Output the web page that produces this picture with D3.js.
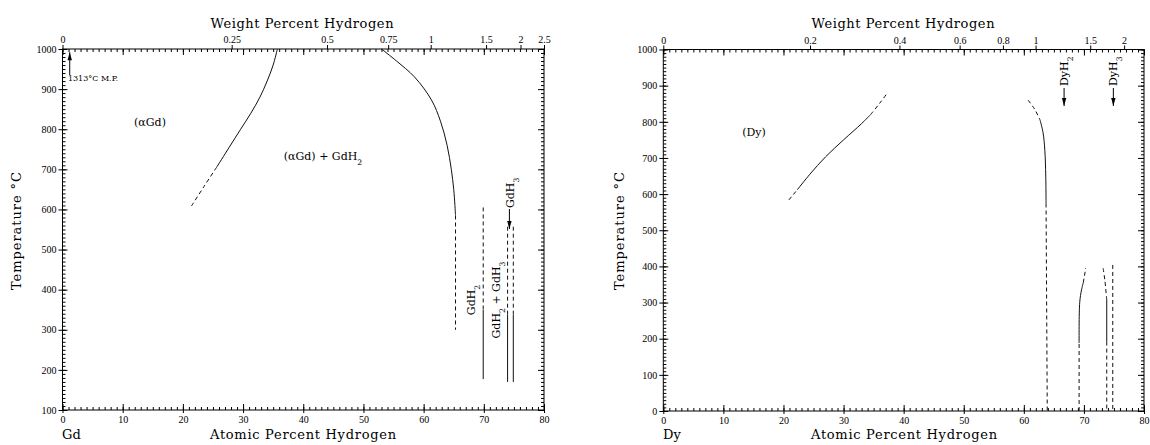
<!DOCTYPE html>
<html><head><meta charset="utf-8">
<script src="https://cdn.jsdelivr.net/npm/d3@7"></script>
<style>
body{margin:0;background:#fff;}
svg{display:block;}
.tick text{font-family:"Liberation Serif",serif;font-size:10px;fill:#000;}
.domain{display:none;}
.tick line{stroke:#000;stroke-width:1;}
</style></head><body>
<svg id="c" width="1150" height="445"></svg>
<script>
// ---------- DATA ----------
const atTicks = [0,10,20,30,40,50,60,70,80];
const gdTempTicks = [100,200,300,400,500,600,700,800,900,1000];
const dyTempTicks = [0,100,200,300,400,500,600,700,800,900,1000];
const gdWtTicks = [0,0.25,0.5,0.75,1,1.5,2,2.5];
const gdWtLabels = ["0","0.25","0.5","0.75","1","1.5","2","2.5"];
const dyWtTicks = [0,0.2,0.4,0.6,0.8,1,1.5,2];
const dyWtLabels = ["0","0.2","0.4","0.6","0.8","1","1.5","2"];
const gdMass = 157.25, dyMass = 162.5, hMass = 1.008;

// Gd-H boundaries [at% H, °C]
const gdAlphaSolid = [[35.7,1000],[35.0,960],[34.0,920],[32.8,880],[31.3,840],[29.6,800],[27.7,755],[25.6,705]];
const gdAlphaDashed = [[25.6,705],[23.5,657],[21.4,608]];
const gdBoundSolid = [[53.0,1000],[55.5,970],[58.5,930],[61.3,873],[62.8,820],[63.9,760],[64.6,700],[65.0,650],[65.2,610],[65.3,585]];
const gdBoundDashed = [[65.3,585],[65.3,300]];
const gdH2Dashed = [[69.9,605],[69.9,350]];
const gdH2Solid = [[69.9,350],[69.9,177]];
const gdH3aDashed = [[73.95,557],[73.95,337]];
const gdH3aSolid = [[73.95,337],[73.95,170]];
const gdH3bDashed = [[74.9,557],[74.9,337]];
const gdH3bSolid = [[74.9,337],[74.9,170]];

// Dy-H boundaries
const dyAlphaDashedLow = [[20.9,584],[22.3,612]];
const dyAlphaSolid = [[22.3,612],[24.4,655],[27.0,703],[30.0,750],[33.0,795],[34.5,820]];
const dyAlphaDashedHigh = [[34.5,820],[36.0,851],[37.4,882]];
const dyBoundDashedHigh = [[60.7,860],[61.8,835],[62.7,805]];
const dyBoundSolid = [[62.7,805],[63.2,770],[63.5,720],[63.65,650],[63.7,574]];
const dyBoundDashedLow = [[63.7,574],[63.9,0]];
const dyH2LeftDashedLow = [[69.2,0],[69.2,188]];
const dyH2LeftSolid = [[69.2,188],[69.3,300],[69.6,335],[69.9,355]];
const dyH2LeftDashedHigh = [[69.9,355],[70.3,395]];
const dyH2RightDashedHigh = [[73.2,395],[73.5,360],[73.8,307]];
const dyH2RightSolid = [[73.8,307],[73.8,192]];
const dyH2RightDashedLow = [[73.8,192],[73.8,0]];
const dyH3Dashed = [[74.8,404],[74.8,0]];

// ---------- DRAW ----------
const svg = d3.select("#c");
function wt2at(w, M){ const a = w/hMass, b = (100-w)/M; return 100*a/(a+b); }

function arrow(g, x, yFrom, yTo){
  g.append("line").attr("x1",x).attr("x2",x).attr("y1",yFrom).attr("y2",yTo)
    .attr("stroke","#000").attr("stroke-width",1);
  const dir = yTo > yFrom ? 1 : -1;
  g.append("path").attr("d",`M${x-2.2},${yTo-dir*8} L${x},${yTo} L${x+2.2},${yTo-dir*8} Z`).attr("fill","#000");
}

function panel(o){
  const g = svg.append("g");
  const x = d3.scaleLinear().domain([0,80]).range([o.x0,o.x1]);
  const y = d3.scaleLinear().domain(o.tDomain).range([o.y1,o.y0]);
  // bottom
  g.append("g").attr("transform",`translate(0,${o.y1})`)
    .call(d3.axisBottom(x).tickValues(d3.range(0,81,1)).tickSize(-3).tickSizeOuter(0).tickFormat(""));
  g.append("g").attr("transform",`translate(0,${o.y1})`)
    .call(d3.axisBottom(x).tickValues(atTicks).tickSize(3).tickPadding(3).tickSizeOuter(0).tickFormat(d3.format("d")))
    .call(s=>s.selectAll(".tick line").attr("y1",-6));
  // top (mirror of atomic)
  g.append("g").attr("transform",`translate(0,${o.y0})`)
    .call(d3.axisTop(x).tickValues(d3.range(0,81,1)).tickSize(-3).tickSizeOuter(0).tickFormat(""));
  g.append("g").attr("transform",`translate(0,${o.y0})`)
    .call(d3.axisTop(x).tickValues(atTicks).tickSize(-6).tickSizeOuter(0).tickFormat(""));
  // top weight percent
  const wtPos = o.wtTicks.map(w=>wt2at(w,o.M));
  g.append("g").attr("transform",`translate(0,${o.y0})`)
    .call(d3.axisTop(x).tickValues(wtPos).tickSize(4).tickPadding(2).tickSizeOuter(0)
      .tickFormat((d,i)=>o.wtLabels[i]));
  // left
  const minorT = d3.range(o.tDomain[0],o.tDomain[1]+1,10);
  g.append("g").attr("transform",`translate(${o.x0},0)`)
    .call(d3.axisLeft(y).tickValues(minorT).tickSize(-3).tickSizeOuter(0).tickFormat(""));
  g.append("g").attr("transform",`translate(${o.x0},0)`)
    .call(d3.axisLeft(y).tickValues(o.tTicks).tickSize(4).tickPadding(2).tickSizeOuter(0).tickFormat(d3.format("d")))
    .call(s=>s.selectAll(".tick line").attr("x1",5));
  // right
  g.append("g").attr("transform",`translate(${o.x1},0)`)
    .call(d3.axisRight(y).tickValues(minorT).tickSize(-3).tickSizeOuter(0).tickFormat(""));
  g.append("g").attr("transform",`translate(${o.x1},0)`)
    .call(d3.axisRight(y).tickValues(o.tTicks).tickSize(-6).tickSizeOuter(0).tickFormat(""));
  // frame
  g.append("rect").attr("x",o.x0).attr("y",o.y0).attr("width",o.x1-o.x0).attr("height",o.y1-o.y0)
    .attr("fill","none").attr("stroke","#000").attr("stroke-width",1);
  // lines
  const line = d3.line().x(d=>x(d[0])).y(d=>y(d[1])).curve(d3.curveCatmullRom);
  o.lines.forEach(L=>{
    g.append("path").attr("d",line(L.d)).attr("fill","none")
      .attr("stroke","#111").attr("stroke-width",1)
      .attr("stroke-dasharray",L.dash?"4,3":null);
  });
  return {g,x,y};
}

const serif = '"DejaVu Serif",serif';
function title(g, txt, cx, cy, len, rot){
  const t = g.append("text").attr("font-family",serif).attr("font-size",13).attr("fill","#000")
    .attr("text-anchor","middle").attr("textLength",len).attr("lengthAdjust","spacing").text(txt);
  if(rot) t.attr("transform",`translate(${cx},${cy}) rotate(-90)`); else t.attr("x",cx).attr("y",cy);
  return t;
}
function chemLabel(g, parts, cx, cy, size, rot, anchor){
  const t = g.append("text").attr("font-family",serif).attr("font-size",size).attr("fill","#000")
    .attr("text-anchor",anchor||"middle");
  parts.forEach(p=>{
    const ts = t.append("tspan").text(p[0]);
    if(p[1]) ts.attr("baseline-shift","sub").attr("font-size",size*0.7);
  });
  if(rot) t.attr("transform",`translate(${cx},${cy}) rotate(-90)`); else t.attr("x",cx).attr("y",cy);
  return t;
}

// ---- Gd panel
const P1 = panel({x0:62.5,x1:544,y0:49,y1:410,tDomain:[100,1000],tTicks:gdTempTicks,
  wtTicks:gdWtTicks,wtLabels:gdWtLabels,M:gdMass,
  lines:[{d:gdAlphaSolid},{d:gdAlphaDashed,dash:1},{d:gdBoundSolid},{d:gdBoundDashed,dash:1},
    {d:gdH2Dashed,dash:1},{d:gdH2Solid},{d:gdH3aDashed,dash:1},{d:gdH3aSolid},{d:gdH3bDashed,dash:1},{d:gdH3bSolid}]});
title(P1.g,"Weight Percent Hydrogen",302,28,183);
title(P1.g,"Atomic Percent Hydrogen",303,439,186);
title(P1.g,"Temperature °C",21,231,118,true);
P1.g.append("text").attr("x",62).attr("y",439).attr("font-family",serif).attr("font-size",13).text("Gd");
// melting point arrow
arrow(P1.g, P1.x(1.2), P1.y(935), P1.y(992));
P1.g.append("text").attr("x",P1.x(0.9)).attr("y",P1.y(920)).attr("font-family",serif).attr("font-size",8).text("1313°C M.P.");
chemLabel(P1.g,[["(αGd)"]],150,126,11);
chemLabel(P1.g,[["(αGd) + GdH"],["2",1]],323,160,11);
chemLabel(P1.g,[["GdH"],["2",1]],475,300,11,true);
chemLabel(P1.g,[["GdH"],["2",1],[" + GdH"],["3",1]],500,300,11,true);
chemLabel(P1.g,[["GdH"],["3",1]],514,208,11,true,"start");
arrow(P1.g, P1.x(74.25), 209, 229);

// ---- Dy panel
const P2 = panel({x0:663.3,x1:1144,y0:49.5,y1:411,tDomain:[0,1000],tTicks:dyTempTicks,
  wtTicks:dyWtTicks,wtLabels:dyWtLabels,M:dyMass,
  lines:[{d:dyAlphaDashedLow,dash:1},{d:dyAlphaSolid},{d:dyAlphaDashedHigh,dash:1},
    {d:dyBoundDashedHigh,dash:1},{d:dyBoundSolid},{d:dyBoundDashedLow,dash:1},
    {d:dyH2LeftDashedLow,dash:1},{d:dyH2LeftSolid},{d:dyH2LeftDashedHigh,dash:1},
    {d:dyH2RightDashedHigh,dash:1},{d:dyH2RightSolid},{d:dyH2RightDashedLow,dash:1},{d:dyH3Dashed,dash:1}]});
title(P2.g,"Weight Percent Hydrogen",903,28,183);
title(P2.g,"Atomic Percent Hydrogen",904,439,186);
title(P2.g,"Temperature °C",624,231,118,true);
P2.g.append("text").attr("x",663).attr("y",439).attr("font-family",serif).attr("font-size",13).text("Dy");
chemLabel(P2.g,[["(Dy)"]],754,136,11);
chemLabel(P2.g,[["DyH"],["2",1]],1068,86,11,true,"start");
chemLabel(P2.g,[["DyH"],["3",1]],1117,86,11,true,"start");
arrow(P2.g, P2.x(66.7), 88, 106);
arrow(P2.g, P2.x(74.9), 88, 106);
</script></body></html>
